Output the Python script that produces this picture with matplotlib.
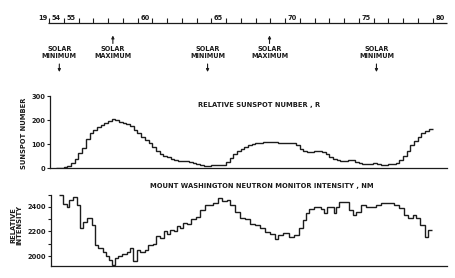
import numpy as np
import matplotlib.pyplot as plt

# figure geometry (pixels) and the year -> pixel scale used by every panel
W, H = 456, 278
X1954 = 49.0
PX_YR = 14.75
INK = '#1c1c1c'

# relative sunspot number, quarterly steps from mid 1954
ssn_start = 1954.5
ssn = [1, 3,
       6, 10, 22, 38,
       62, 85, 120, 145,
       160, 172, 180, 188,
       196, 203, 200, 192,
       188, 182, 175, 160,
       145, 130, 118, 105,
       88, 72, 60, 52,
       45, 38, 34, 32,
       30, 29, 26, 22,
       18, 12, 10, 11,
       12, 13, 14, 15,
       28, 42, 58, 72,
       82, 90, 96, 100,
       103, 106, 108, 110,
       110, 108, 106, 105,
       104, 105, 106, 98,
       82, 70, 66, 67,
       70, 73, 68, 58,
       48, 40, 34, 31,
       32, 35, 34, 28,
       22, 18, 17, 18,
       20, 16, 14, 15,
       16, 18, 24, 34,
       50, 72, 95, 112,
       128, 145, 155, 162]

# Mount Washington neutron monitor, step start times and levels
nm_years = [1954.69, 1954.97, 1955.22, 1955.38, 1955.60, 1955.88, 1956.10, 1956.33, 1956.60, 1956.90,
            1957.12, 1957.34, 1957.64, 1957.86, 1958.09, 1958.25, 1958.47, 1958.70, 1958.93, 1959.27,
            1959.50, 1959.72, 1959.95, 1960.17, 1960.50, 1960.73, 1961.07, 1961.25, 1961.50, 1961.80,
            1962.00, 1962.20, 1962.45, 1962.65, 1962.90, 1963.10, 1963.35, 1963.60, 1963.95, 1964.25,
            1964.60, 1965.15, 1965.45, 1965.70, 1966.05, 1966.27, 1966.61, 1966.95, 1967.29, 1967.63,
            1967.97, 1968.31, 1968.64, 1968.98, 1969.32, 1969.55, 1969.89, 1970.25, 1970.60, 1970.95,
            1971.20, 1971.42, 1971.65, 1971.99, 1972.44, 1972.65, 1972.83, 1973.35, 1973.46, 1973.69,
            1974.37, 1974.60, 1974.82, 1975.16, 1975.50, 1975.84, 1976.18, 1976.52, 1977.42, 1977.76,
            1978.10, 1978.33, 1978.67, 1978.90, 1979.12, 1979.46, 1979.69]
nm_end = 1979.98
nm = [2498, 2422, 2395, 2457, 2476, 2414, 2231, 2280, 2313, 2253,
      2090, 2068, 2035, 2003, 1967, 1927, 1986, 2000, 2014, 2035,
      2068, 1960, 2049, 2035, 2049, 2090, 2100, 2166, 2150, 2205,
      2180, 2215, 2200, 2245, 2230, 2270, 2258, 2300, 2320, 2375,
      2411, 2430, 2468, 2449, 2455, 2414, 2362, 2308, 2300, 2262,
      2250, 2231, 2199, 2177, 2139, 2172, 2186, 2158, 2170, 2226,
      2294, 2348, 2384, 2395, 2380, 2348, 2395, 2348, 2400, 2438,
      2375, 2330, 2362, 2414, 2400, 2395, 2411, 2430, 2414, 2387,
      2335, 2308, 2330, 2308, 2253, 2158, 2212]

# time scale
tick_years = list(range(1954, 1981))
label_years = [1954, 1955, 1960, 1965, 1970, 1975, 1980]
year_labels = ['54', '55', '60', '65', '70', '75', '80']

# solar cycle markers
minima = [1954.7, 1964.75, 1976.2]
maxima = [1958.33, 1968.95]


def yr(px):
    return 1954 + (px - X1954) / PX_YR


def box(l, t, r, b):
    return [l / W, 1 - b / H, (r - l) / W, (b - t) / H]


plt.rcParams['font.family'] = 'DejaVu Sans'
fig = plt.figure(figsize=(W / 100, H / 100), dpi=100)
fig.patch.set_facecolor('white')

# full-figure overlay: x in years, y in pixels
ann = fig.add_axes([0, 0, 1, 1])
ann.set_xlim(yr(0), yr(W))
ann.set_ylim(H, 0)
ann.axis('off')

ann.hlines(22.5, yr(48), yr(447), color=INK, lw=0.9)
ann.vlines(tick_years, 17.5, 22.5, color=INK, lw=0.8)
for y, s in zip(label_years, year_labels):
    ann.text(y + 0.5, 18.5, s, ha='center', va='center', fontsize=4.8,
             fontweight='bold', color=INK)
ann.text(yr(47.5), 18.5, '19', ha='right', va='center', fontsize=4.8,
         fontweight='bold', color=INK)

for y in minima:
    ann.text(y, 52.5, 'SOLAR\nMINIMUM', ha='center', va='center', fontsize=4.7,
             fontweight='bold', color=INK, linespacing=1.15)
    ann.annotate('', xy=(y, 72), xytext=(y, 64),
                 arrowprops=dict(arrowstyle='-|>', lw=0.8, color=INK,
                                 mutation_scale=4, shrinkA=0, shrinkB=0))
for y in maxima:
    ann.text(y, 52.5, 'SOLAR\nMAXIMUM', ha='center', va='center', fontsize=4.7,
             fontweight='bold', color=INK, linespacing=1.15)
    ann.annotate('', xy=(y, 35.5), xytext=(y, 43.5),
                 arrowprops=dict(arrowstyle='-|>', lw=0.8, color=INK,
                                 mutation_scale=4, shrinkA=0, shrinkB=0))

ann.text(yr(259), 105, 'RELATIVE SUNSPOT NUMBER , R', ha='center', va='center',
         fontsize=4.9, fontweight='bold', color=INK)
ann.text(yr(262), 186, 'MOUNT WASHINGTON NEUTRON MONITOR INTENSITY , NM',
         ha='center', va='center', fontsize=4.9, fontweight='bold', color=INK)
ann.text(yr(24), 133, 'SUNSPOT NUMBER', rotation=90, ha='center', va='center',
         fontsize=4.9, fontweight='bold', color=INK)
ann.text(yr(16.5), 225, 'RELATIVE\nINTENSITY', rotation=90, ha='center',
         va='center', fontsize=4.9, fontweight='bold', color=INK, linespacing=1.1)


def style(ax):
    for side in ('top', 'right'):
        ax.spines[side].set_visible(False)
    for side in ('left', 'bottom'):
        ax.spines[side].set_color(INK)
        ax.spines[side].set_linewidth(0.9)
    ax.set_xticks([])
    ax.tick_params(axis='y', which='both', direction='out', length=2.5,
                   width=0.8, color=INK, labelsize=4.8, labelcolor=INK, pad=1)
    for lab in ax.get_yticklabels():
        lab.set_fontweight('bold')
    ax.patch.set_alpha(0)


# sunspot panel
ax1 = fig.add_axes(box(50, 96, 447, 168.3))
ax1.set_xlim(yr(50), yr(447))
ax1.set_ylim(0, 300)
edges = ssn_start + 0.25 * np.arange(len(ssn) + 1)
ax1.stairs(ssn, edges, baseline=None, color=INK, lw=1.0)
ax1.set_yticks([0, 100, 200, 300])
style(ax1)

# neutron monitor panel
ax2 = fig.add_axes(box(50.7, 194.5, 447, 266))
ax2.set_xlim(yr(50.7), yr(447))
ax2.set_ylim(1920, 2500)
ax2.stairs(nm, nm_years + [nm_end], baseline=None, color=INK, lw=1.0, clip_on=False)
ax2.set_yticks([2000, 2200, 2400])
ax2.set_yticks([2100, 2300, 2500], minor=True)
style(ax2)

fig.savefig('out.png', dpi=100, facecolor='white')
